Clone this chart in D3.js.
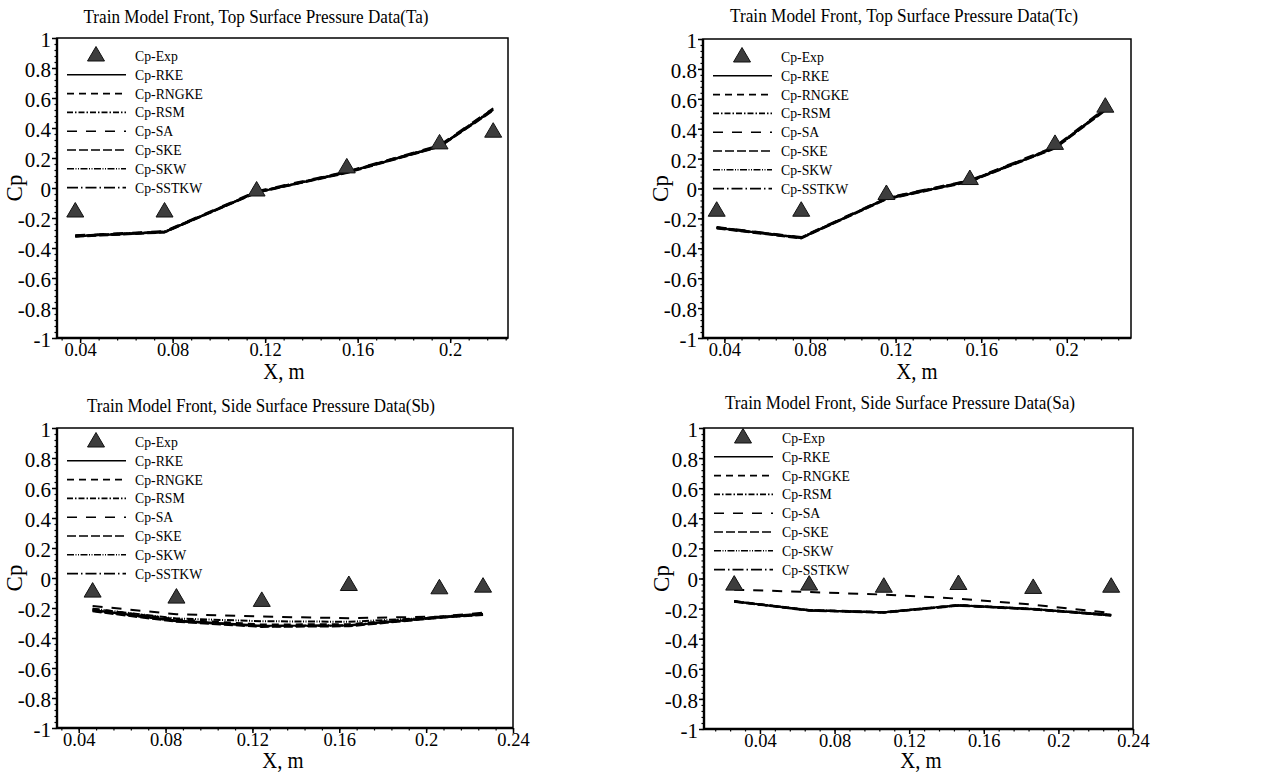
<!DOCTYPE html>
<html><head><meta charset="utf-8">
<script src="https://cdn.jsdelivr.net/npm/d3@7"></script>
<style>
body{margin:0;background:#fff}
svg{display:block}
text{font-family:"Liberation Serif","Times New Roman",serif;fill:#000}
</style>
</head><body>
<svg id="chart" width="1268" height="773"></svg>
<script>
// ---- data ----
const modelNames = ["Cp-RKE","Cp-RNGKE","Cp-RSM","Cp-SA","Cp-SKE","Cp-SKW","Cp-SSTKW"];
const yTicks = [-1,-0.8,-0.6,-0.4,-0.2,0,0.2,0.4,0.6,0.8,1];

// Top surface (Ta)
const xTa   = [0.0379, 0.0765, 0.1163, 0.1553, 0.1954, 0.2186];
const expTa = [-0.150, -0.150, -0.010, 0.144, 0.304, 0.382];
const simTa = [
  [-0.322, -0.295, -0.030, 0.103, 0.276, 0.520],
  [-0.318, -0.290, -0.025, 0.108, 0.282, 0.528],
  [-0.320, -0.292, -0.028, 0.105, 0.279, 0.524],
  [-0.315, -0.288, -0.022, 0.110, 0.285, 0.532],
  [-0.325, -0.297, -0.032, 0.100, 0.274, 0.516],
  [-0.319, -0.291, -0.027, 0.106, 0.280, 0.526],
  [-0.321, -0.294, -0.029, 0.104, 0.277, 0.522]
];

// Top surface (Tc)
const xTc   = [0.0364, 0.0759, 0.1157, 0.1547, 0.1945, 0.2180];
const expTc = [-0.142, -0.142, -0.030, 0.070, 0.305, 0.554];
const simTc = [
  [-0.264, -0.331, -0.070, 0.048, 0.271, 0.527],
  [-0.260, -0.327, -0.065, 0.053, 0.277, 0.533],
  [-0.262, -0.329, -0.068, 0.050, 0.274, 0.530],
  [-0.258, -0.325, -0.062, 0.056, 0.281, 0.537],
  [-0.267, -0.334, -0.073, 0.045, 0.268, 0.522],
  [-0.261, -0.328, -0.066, 0.052, 0.275, 0.531],
  [-0.263, -0.330, -0.069, 0.049, 0.272, 0.528]
];

// Side surface (Sb)
const xSb   = [0.0464, 0.0850, 0.1243, 0.1644, 0.2061, 0.2262];
const expSb = [-0.084, -0.124, -0.146, -0.040, -0.062, -0.051];
const simSb = [
  [-0.213, -0.283, -0.318, -0.316, -0.262, -0.242],
  [-0.205, -0.275, -0.310, -0.308, -0.258, -0.238],
  [-0.218, -0.288, -0.322, -0.318, -0.264, -0.244],
  [-0.186, -0.242, -0.257, -0.268, -0.257, -0.231],
  [-0.222, -0.292, -0.326, -0.322, -0.266, -0.246],
  [-0.205, -0.270, -0.288, -0.292, -0.262, -0.238],
  [-0.215, -0.286, -0.320, -0.314, -0.260, -0.240]
];

// Side surface (Sa)
const xSa   = [0.0262, 0.0664, 0.1064, 0.1464, 0.1865, 0.2283];
const expSa = [-0.034, -0.034, -0.048, -0.030, -0.056, -0.048];
const simSa = [
  [-0.152, -0.211, -0.225, -0.178, -0.203, -0.243],
  [-0.150, -0.209, -0.223, -0.176, -0.201, -0.241],
  [-0.153, -0.212, -0.226, -0.179, -0.204, -0.244],
  [-0.074, -0.090, -0.107, -0.134, -0.174, -0.229],
  [-0.155, -0.214, -0.228, -0.181, -0.206, -0.247],
  [-0.151, -0.210, -0.224, -0.177, -0.202, -0.242],
  [-0.152, -0.212, -0.225, -0.179, -0.204, -0.245]
];

const xTicksTop  = [0.04, 0.08, 0.12, 0.16, 0.2];
const xTicksSide = [0.04, 0.08, 0.12, 0.16, 0.2, 0.24];

// line dash patterns, one per model
const dashes = ["", "7,5", "6,2,1.5,2", "10,9", "9,3", "7,1.5,1,1.5,1,1.5", "11,3,1.5,3"];

// ---- panel layout ----
const panels = [
  {title:"Train Model Front, Top Surface Pressure Data(Ta)", xs:xTa, exp:expTa, sim:simTa,
   left:57, right:508, top:38, bottom:338, xDomain:[0.03,0.225], xTicks:xTicksTop,
   titleX:256, titleY:23, titleW:345, xLabel:"X,  m", xLabelX:284, xLabelY:379, legOff:18},
  {title:"Train Model Front, Top Surface Pressure Data(Tc)", xs:xTc, exp:expTc, sim:simTc,
   left:703, right:1131, top:39, bottom:338, xDomain:[0.03,0.23], xTicks:xTicksTop,
   titleX:904, titleY:22, titleW:348, xLabel:"X, m", xLabelX:917, xLabelY:379, legOff:18},
  {title:"Train Model Front, Side Surface Pressure Data(Sb)", xs:xSb, exp:expSb, sim:simSb,
   left:57, right:513, top:428, bottom:728, xDomain:[0.03,0.24], xTicks:xTicksSide,
   titleX:261, titleY:412, titleW:348, xLabel:"X, m", xLabelX:283, xLabelY:768, legOff:14},
  {title:"Train Model Front, Side Surface Pressure Data(Sa)", xs:xSa, exp:expSa, sim:simSa,
   left:704, right:1133, top:428, bottom:729, xDomain:[0.01,0.24], xTicks:xTicksSide,
   titleX:900, titleY:409, titleW:350, xLabel:"X, m", xLabelX:921, xLabelY:768, legOff:10}
];

const svg = d3.select("#chart");
const triPath = "M0,-8L8.5,6.5L-8.5,6.5Z";
const fmtY = v => String(+v.toFixed(1));
const fmtX = v => String(+v.toFixed(2));
const serif = '"Liberation Serif","Times New Roman",serif';

panels.forEach(p => {
  const x = d3.scaleLinear().domain(p.xDomain).range([p.left, p.right]);
  const y = d3.scaleLinear().domain([-1, 1]).range([p.bottom, p.top]);
  const g = svg.append("g");

  // minor ticks
  const yMinor = d3.range(-1, 1.0001, 0.04).map(v => +v.toFixed(2));
  const xMinor = [];
  for (let v = 0.04; v <= p.xDomain[1] + 1e-9; v += 0.008) xMinor.push(+v.toFixed(3));
  for (let v = 0.032; v >= p.xDomain[0] - 1e-9; v -= 0.008) xMinor.push(+v.toFixed(3));

  g.append("g").attr("transform", `translate(${p.left},0)`)
    .call(d3.axisLeft(y).tickValues(yMinor).tickSize(2.5).tickSizeOuter(0).tickFormat(""))
    .call(s => s.select(".domain").remove())
    .selectAll("line").attr("stroke-width", 1.2);
  g.append("g").attr("transform", `translate(0,${p.bottom})`)
    .call(d3.axisBottom(x).tickValues(xMinor).tickSize(2.5).tickSizeOuter(0).tickFormat(""))
    .call(s => s.select(".domain").remove())
    .selectAll("line").attr("stroke-width", 1.2);

  // major ticks + labels
  const ya = g.append("g").attr("transform", `translate(${p.left},0)`)
    .call(d3.axisLeft(y).tickValues(yTicks).tickSize(5).tickPadding(1).tickSizeOuter(0).tickFormat(fmtY));
  ya.attr("font-family", serif).attr("font-size", 21);
  ya.select(".domain").remove();
  ya.selectAll("line").attr("stroke-width", 1.5);
  ya.selectAll("text").attr("dy", "0.4em");

  const xa = g.append("g").attr("transform", `translate(0,${p.bottom})`)
    .call(d3.axisBottom(x).tickValues(p.xTicks).tickSize(5).tickPadding(0).tickSizeOuter(0).tickFormat(fmtX));
  xa.attr("font-family", serif).attr("font-size", 18.5);
  xa.select(".domain").remove();
  xa.selectAll("line").attr("stroke-width", 1.5);

  // frame
  g.append("rect").attr("x", p.left).attr("y", p.top)
    .attr("width", p.right - p.left).attr("height", p.bottom - p.top)
    .attr("fill", "none").attr("stroke", "#000").attr("stroke-width", 1.5);
  g.append("line").attr("x1", p.left).attr("x2", p.left).attr("y1", p.top).attr("y2", p.bottom)
    .attr("stroke", "#000").attr("stroke-width", 2.4);
  g.append("line").attr("x1", p.left).attr("x2", p.right).attr("y1", p.bottom).attr("y2", p.bottom)
    .attr("stroke", "#000").attr("stroke-width", 2.4);

  // simulation curves
  const line = d3.line().x((d, i) => x(p.xs[i])).y(d => y(d));
  p.sim.forEach((s, k) => {
    g.append("path").datum(s).attr("d", line)
      .attr("fill", "none").attr("stroke", "#000").attr("stroke-width", 2)
      .attr("stroke-dasharray", dashes[k] || null);
  });

  // experimental points
  g.selectAll(".exp").data(p.exp).join("path")
    .attr("d", triPath)
    .attr("transform", (d, i) => `translate(${x(p.xs[i])},${y(d)})`)
    .attr("fill", "#3d3d3d").attr("stroke", "#111").attr("stroke-width", 1);

  // legend
  const lx = p.left, ly = p.top + p.legOff, rowH = 18.8;
  g.append("path").attr("d", triPath).attr("transform", `translate(${lx + 39},${ly - 1.5})`)
    .attr("fill", "#3d3d3d").attr("stroke", "#111").attr("stroke-width", 1);
  const names = ["Cp-Exp"].concat(modelNames);
  names.forEach((n, i) => {
    const yy = ly + i * rowH;
    if (i > 0) {
      g.append("line").attr("x1", lx + 10).attr("x2", lx + 69).attr("y1", yy).attr("y2", yy)
        .attr("stroke", "#000").attr("stroke-width", 1.6)
        .attr("stroke-dasharray", dashes[i - 1] || null);
    }
    g.append("text").attr("transform", `translate(${lx + 78},${yy + 5}) scale(0.95,1)`)
      .attr("font-size", 14.5).text(n);
  });

  // titles and axis labels
  g.append("text").attr("x", p.titleX).attr("y", p.titleY).attr("text-anchor", "middle")
    .attr("font-size", 19).attr("textLength", p.titleW).attr("lengthAdjust", "spacingAndGlyphs")
    .text(p.title);
  g.append("text").attr("transform", `translate(${p.xLabelX},${p.xLabelY}) scale(0.92,1)`)
    .attr("text-anchor", "middle").attr("font-size", 22.5).text(p.xLabel);
  g.append("text").attr("transform", `translate(${p.left - 35},${y(0)}) rotate(-90)`)
    .attr("text-anchor", "middle").attr("font-size", 23).text("Cp");
});
</script>
</body></html>
